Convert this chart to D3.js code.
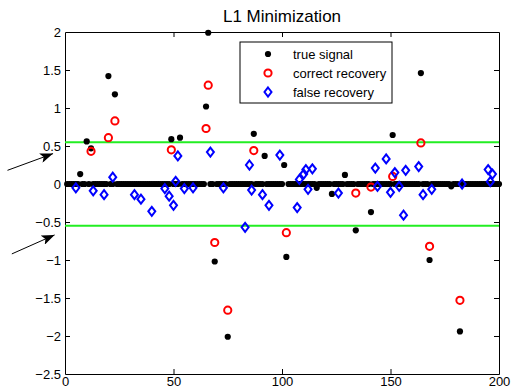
<!DOCTYPE html>
<html>
<head>
<meta charset="utf-8">
<script src="https://cdn.jsdelivr.net/npm/d3@7"></script>
<style>
  body { margin: 0; background: #fff; }
  text { font-family: "Liberation Sans", Arial, sans-serif; }
</style>
</head>
<body>
<div id="chart"></div>
<script>
// Signal length and thresholds
const N = 200;
const threshold = 0.55;

// Non-zero entries of the true signal [index, value]
const trueSpikes = [
  [7, 0.13], [10, 0.56], [12, 0.47], [20, 1.42], [23, 1.18], [49, 0.59],
  [53, 0.61], [65, 1.02], [66, 1.99], [69, -1.02], [75, -2.01], [87, 0.66],
  [92, 0.37], [101, 0.25], [102, -0.96], [116, -0.05], [123, -0.13],
  [129, 0.12], [134, -0.61], [141, -0.37], [151, 0.645], [164, 1.46],
  [168, -1.0], [178, -0.03], [182, -1.94]
];

// Recovered values on the true support
const correctRecovery = [
  [12, 0.43], [20, 0.61], [23, 0.83], [49, 0.45], [65, 0.73], [66, 1.3],
  [69, -0.77], [75, -1.66], [87, 0.44], [102, -0.64], [134, -0.12],
  [141, -0.04], [151, 0.1], [164, 0.54], [168, -0.82], [182, -1.53]
];

// Recovered values off the true support
const falseRecovery = [
  [5, -0.05], [13, -0.09], [18, -0.14], [22, 0.09], [32, -0.14], [35, -0.2],
  [40, -0.36], [46, -0.06], [48, -0.16], [50, -0.28], [51, 0.035], [52, 0.37],
  [55, -0.06], [59, -0.05], [67, 0.42], [73, -0.05], [83, -0.57], [85, 0.25],
  [86, -0.08], [91, -0.14], [94, -0.28], [99, 0.38], [107, -0.31], [108, 0.06],
  [110, 0.13], [111, 0.19], [112, -0.07], [114, 0.2], [126, -0.12], [143, 0.21],
  [144, -0.03], [148, 0.33], [150, -0.11], [152, 0.15], [154, -0.03],
  [156, -0.41], [157, 0.18], [163, 0.23], [165, -0.14], [169, -0.07],
  [183, 0.0], [195, 0.19], [196, 0.03], [197, 0.13]
];

const xTicks = [0, 50, 100, 150, 200];
const yTicks = [-2.5, -2, -1.5, -1, -0.5, 0, 0.5, 1, 1.5, 2];

// Arrows pointing at the threshold lines, [x1, y1, x2, y2] in data units
const arrows = [
  [-26.5, 0.18, -5.5, 0.4],
  [-24.5, -0.92, -4.8, -0.67]
];

const legendItems = ["true signal", "correct recovery", "false recovery"];

// Full true signal, zeros included
const spikeMap = new Map(trueSpikes);
const trueSignal = d3.range(1, N + 1).map(i => [i, spikeMap.get(i) || 0]);

const W = 511, H = 391;
const margin = { top: 32, right: 12, bottom: 17, left: 65 };

const svg = d3.select("#chart").append("svg")
  .attr("width", W)
  .attr("height", H);

const x = d3.scaleLinear().domain([0, 200]).range([margin.left, W - margin.right]);
const y = d3.scaleLinear().domain([-2.5, 2]).range([H - margin.bottom, margin.top]);

const fmt = d => (d < 0 ? "\u2212" + Math.abs(d) : String(d));

// Axes on all four sides with inward ticks
const axes = svg.append("g").attr("class", "axes");

axes.append("g")
  .attr("transform", `translate(0,${y.range()[0]})`)
  .call(d3.axisBottom(x).tickValues(xTicks).tickFormat(fmt).tickSizeInner(-5).tickSizeOuter(0).tickPadding(3));

axes.append("g")
  .attr("transform", `translate(0,${y.range()[1]})`)
  .call(d3.axisTop(x).tickValues(xTicks).tickFormat("").tickSizeInner(-5).tickSizeOuter(0));

axes.append("g")
  .attr("transform", `translate(${x.range()[0]},0)`)
  .call(d3.axisLeft(y).tickValues(yTicks).tickFormat(fmt).tickSizeInner(-5).tickSizeOuter(0).tickPadding(4));

axes.append("g")
  .attr("transform", `translate(${x.range()[1]},0)`)
  .call(d3.axisRight(y).tickValues(yTicks).tickFormat("").tickSizeInner(-5).tickSizeOuter(0));

axes.selectAll(".tick text")
  .style("font-family", "'Liberation Sans', Arial, sans-serif")
  .style("font-size", "13px")
  .attr("fill", "#000");
axes.selectAll(".domain").attr("stroke", "#000").attr("stroke-width", 1);
axes.selectAll(".tick line").attr("stroke", "#000");
// keep the box ends of edge ticks clean
axes.selectAll(".tick line")
  .filter(d => d === 0 || d === 200 || d === -2.5 || d === 2)
  .attr("stroke", "none");

// Threshold lines
svg.append("g")
  .selectAll("line")
  .data([threshold, -threshold])
  .join("line")
  .attr("x1", x(0))
  .attr("x2", x(200))
  .attr("y1", d => y(d))
  .attr("y2", d => y(d))
  .attr("stroke", "#22ee22")
  .attr("stroke-width", 2);

// True signal
svg.append("g")
  .selectAll("circle")
  .data(trueSignal)
  .join("circle")
  .attr("cx", d => x(d[0]))
  .attr("cy", d => y(d[1]))
  .attr("r", 3.1)
  .attr("fill", "#000");

// Correct recovery
svg.append("g")
  .selectAll("circle")
  .data(correctRecovery)
  .join("circle")
  .attr("cx", d => x(d[0]))
  .attr("cy", d => y(d[1]))
  .attr("r", 3.6)
  .attr("fill", "none")
  .attr("stroke", "#ff0000")
  .attr("stroke-width", 2);

// False recovery
const diamond = "M0,-4.5L3.5,0L0,4.5L-3.5,0Z";
svg.append("g")
  .selectAll("path")
  .data(falseRecovery)
  .join("path")
  .attr("transform", d => `translate(${x(d[0])},${y(d[1])})`)
  .attr("d", diamond)
  .attr("fill", "none")
  .attr("stroke", "#0000ff")
  .attr("stroke-width", 2);

// Title
svg.append("text")
  .attr("x", (x.range()[0] + x.range()[1]) / 2)
  .attr("y", 22)
  .attr("text-anchor", "middle")
  .style("font-size", "17px")
  .text("L1 Minimization");

// Legend
const legend = svg.append("g").attr("transform", "translate(240,42)");
legend.append("rect")
  .attr("width", 152)
  .attr("height", 61)
  .attr("fill", "#fff")
  .attr("stroke", "#000");

const rowY = i => 12 + i * 19;
legend.append("circle").attr("cx", 28).attr("cy", rowY(0)).attr("r", 3.1).attr("fill", "#000");
legend.append("circle").attr("cx", 28).attr("cy", rowY(1)).attr("r", 3.6)
  .attr("fill", "none").attr("stroke", "#ff0000").attr("stroke-width", 2);
legend.append("path").attr("transform", `translate(28,${rowY(2)})`).attr("d", diamond)
  .attr("fill", "none").attr("stroke", "#0000ff").attr("stroke-width", 2);

legend.selectAll("text.lbl")
  .data(legendItems)
  .join("text")
  .attr("class", "lbl")
  .attr("x", 53)
  .attr("y", (d, i) => rowY(i) + 4.5)
  .style("font-size", "13px")
  .text(d => d);

// Annotation arrows
const defs = svg.append("defs");
defs.append("marker")
  .attr("id", "head")
  .attr("viewBox", "0 0 13 10")
  .attr("refX", 13)
  .attr("refY", 5)
  .attr("markerWidth", 13)
  .attr("markerHeight", 10)
  .attr("markerUnits", "userSpaceOnUse")
  .attr("orient", "auto")
  .append("path")
  .attr("d", "M0,0L13,5L0,10L3,5Z")
  .attr("fill", "#000");

svg.append("g")
  .selectAll("line")
  .data(arrows)
  .join("line")
  .attr("x1", d => x(d[0]))
  .attr("y1", d => y(d[1]))
  .attr("x2", d => x(d[2]))
  .attr("y2", d => y(d[3]))
  .attr("stroke", "#000")
  .attr("stroke-width", 1)
  .attr("marker-end", "url(#head)");
</script>
</body>
</html>
